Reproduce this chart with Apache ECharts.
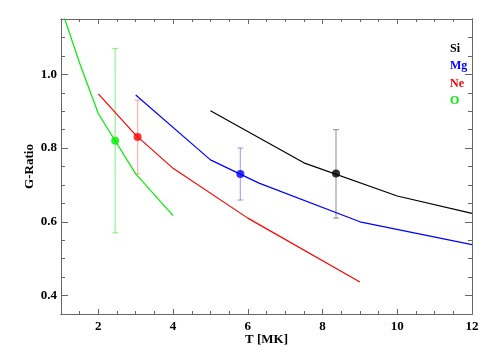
<!DOCTYPE html>
<html>
<head>
<meta charset="utf-8">
<script src="https://cdn.jsdelivr.net/npm/echarts@6/dist/echarts.min.js"></script>
<style>html,body{margin:0;padding:0;background:#fff;}#c{width:491px;height:354px;}</style>
</head>
<body>
<div id="c"></div>
<script>
// ---- data ----
const siT = [5, 7.5, 10, 12];
const siG = [0.901, 0.760, 0.670, 0.623];
const mgT = [3, 5, 6.3, 9, 12];
const mgG = [0.944, 0.768, 0.705, 0.600, 0.538];
const neT = [2, 3, 4, 6, 9];
const neG = [0.947, 0.835, 0.745, 0.610, 0.437];
const oT = [1, 1.5, 2, 3, 4];
const oG = [1.18, 1.03, 0.893, 0.730, 0.617];

const obsNames = ['Si', 'Mg', 'Ne', 'O'];
const obsT = [8.36, 5.80, 3.05, 2.45];
const obsG = [0.731, 0.730, 0.830, 0.820];
const obsLo = [0.610, 0.659, 0.730, 0.570];
const obsHi = [0.850, 0.800, 0.930, 1.070];

const xMajor = [2, 4, 6, 8, 10, 12];
const yMajor = [0.4, 0.6, 0.8, 1.0];
const xMin = 1, xMax = 12, yMin = 0.35, yMax = 1.15;

const lineColors = {Si: '#000000', Mg: '#0000ff', Ne: '#ff0000', O: '#00ee00'};
const errColors = {Si: 'rgba(120,120,120,0.7)', Mg: 'rgba(80,80,255,0.5)', Ne: 'rgba(255,80,80,0.45)', O: 'rgba(60,230,60,0.55)'};

const xMinor = [], yMinor = [];
for (let v = 1; v <= 12.0001; v += 0.5) xMinor.push(+v.toFixed(2));
for (let v = 0.35; v <= 1.15001; v += 0.05) yMinor.push(+v.toFixed(2));

const font = '"Liberation Serif", "Times New Roman", serif';
const axisColor = '#666';

function xAx(pos, ticks, len, labels, name) {
  return {
    type: 'value', position: pos, min: xMin, max: xMax,
    axisLine: {show: true, onZero: false, lineStyle: {color: axisColor, width: 1}},
    axisTick: {show: true, inside: true, length: len, customValues: ticks, lineStyle: {color: axisColor}},
    axisLabel: labels ? {show: true, customValues: xMajor, margin: 6, color: '#000', fontFamily: font, fontWeight: 'bold', fontSize: 13} : {show: false},
    splitLine: {show: false},
    name: name || '', nameLocation: 'middle', nameGap: 19, nameMoveOverlap: false,
    nameTextStyle: {color: '#000', fontFamily: font, fontWeight: 'bold', fontSize: 13}
  };
}
function yAx(pos, ticks, len, labels, name) {
  return {
    type: 'value', position: pos, min: yMin, max: yMax,
    axisLine: {show: true, onZero: false, lineStyle: {color: axisColor, width: 1}},
    axisTick: {show: true, inside: true, length: len, customValues: ticks, lineStyle: {color: axisColor}},
    axisLabel: labels ? {show: true, customValues: yMajor, margin: 4, color: '#000', fontFamily: font, fontWeight: 'bold', fontSize: 13,
      formatter: v => v.toFixed(1)} : {show: false},
    splitLine: {show: false},
    name: name || '', nameLocation: 'middle', nameGap: 25, nameMoveOverlap: false,
    nameTextStyle: {color: '#000', fontFamily: font, fontWeight: 'bold', fontSize: 13}
  };
}

function lineSeries(name, T, G) {
  return {
    name: name, type: 'line', xAxisIndex: 0, yAxisIndex: 0,
    data: T.map((t, i) => [t, G[i]]), showSymbol: false, symbol: 'none',
    lineStyle: {color: lineColors[name], width: 1.2}, itemStyle: {color: lineColors[name]},
    clip: true, z: 3, animation: false
  };
}

const errData = obsNames.map((n, i) => ({value: [obsT[i], obsLo[i], obsHi[i]], itemStyle: {color: errColors[n]}}));
const dotData = obsNames.map((n, i) => ({value: [obsT[i], obsG[i]], itemStyle: {color: lineColors[n]}}));

const option = {
  animation: false,
  backgroundColor: '#fff',
  grid: {left: 61, right: 19, top: 19, bottom: 40, containLabel: false},
  legend: {
    orient: 'vertical', left: 440, top: 37, icon: 'none', itemWidth: 0, itemHeight: 13, itemGap: 5,
    selectedMode: false,
    textStyle: {fontFamily: font, fontWeight: 'bold', fontSize: 12},
    data: ['Si', 'Mg', 'Ne', 'O'].map(n => ({name: n, textStyle: {color: lineColors[n]}}))
  },
  xAxis: [
    xAx('bottom', xMajor, 5, true, 'T [MK]'),
    xAx('bottom', xMinor, 3, false),
    xAx('top', xMajor, 5, false),
    xAx('top', xMinor, 3, false)
  ],
  yAxis: [
    yAx('left', yMajor, 7, true, 'G-Ratio'),
    yAx('left', yMinor, 4, false),
    yAx('right', yMajor, 7, false),
    yAx('right', yMinor, 4, false)
  ],
  series: [
    lineSeries('Si', siT, siG),
    lineSeries('Mg', mgT, mgG),
    lineSeries('Ne', neT, neG),
    lineSeries('O', oT, oG),
    {
      name: 'err', type: 'custom', xAxisIndex: 0, yAxisIndex: 0, z: 2,
      data: errData,
      renderItem: function (params, api) {
        const x = api.value(0), lo = api.value(1), hi = api.value(2);
        const pLo = api.coord([x, lo]), pHi = api.coord([x, hi]);
        const c = api.visual('color');
        const w = 3;
        const st = {stroke: c, lineWidth: 1.2};
        return {type: 'group', children: [
          {type: 'line', shape: {x1: pLo[0], y1: pLo[1], x2: pHi[0], y2: pHi[1]}, style: st},
          {type: 'line', shape: {x1: pLo[0] - w, y1: pLo[1], x2: pLo[0] + w, y2: pLo[1]}, style: st},
          {type: 'line', shape: {x1: pHi[0] - w, y1: pHi[1], x2: pHi[0] + w, y2: pHi[1]}, style: st}
        ]};
      }
    },
    {
      name: 'obs', type: 'scatter', xAxisIndex: 0, yAxisIndex: 0, z: 4,
      symbol: 'circle', symbolSize: 8, data: dotData
    }
  ]
};

const chart = echarts.init(document.getElementById('c'), null, {renderer: 'canvas'});
chart.setOption(option);
</script>
</body>
</html>
